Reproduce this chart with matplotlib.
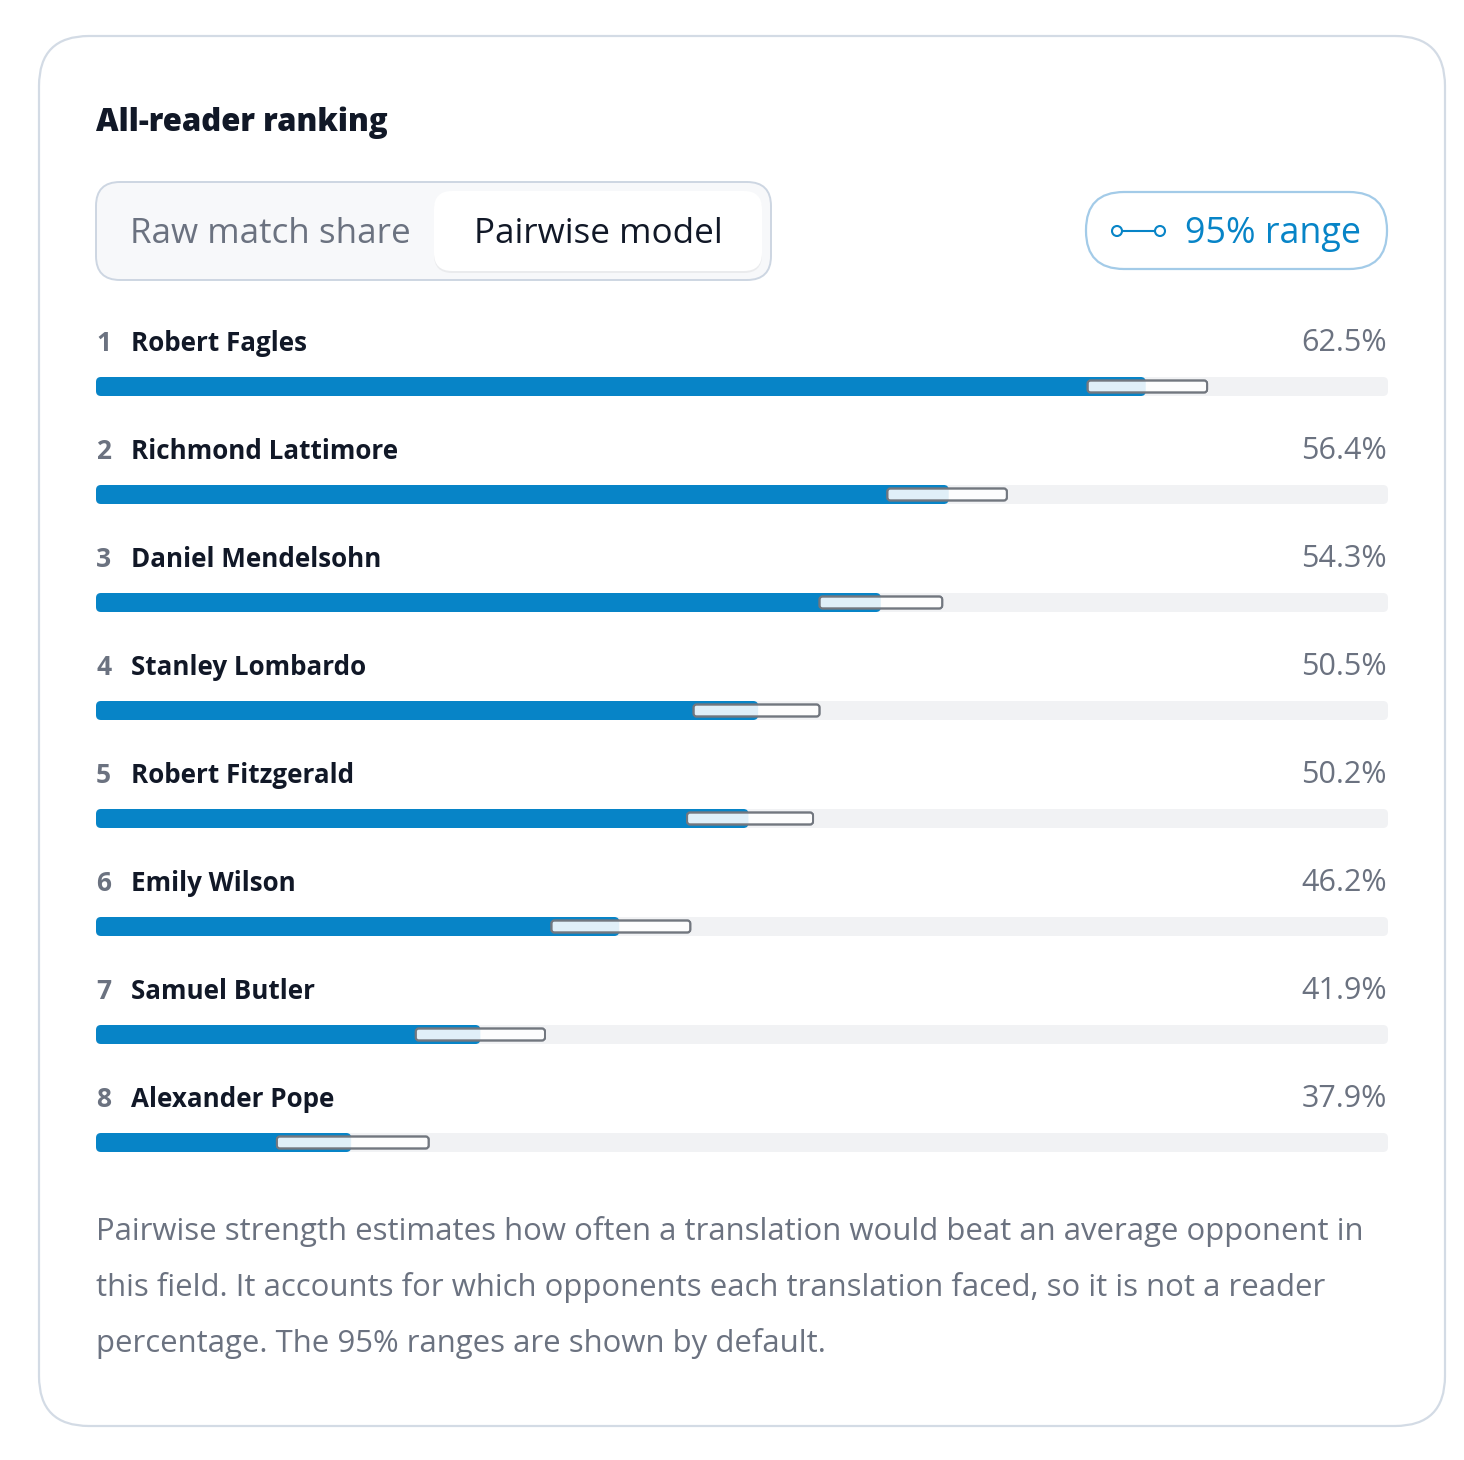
import matplotlib
matplotlib.use("Agg")
import matplotlib.pyplot as plt
from matplotlib.patches import FancyBboxPatch, Circle
from matplotlib.lines import Line2D

# data
names = ['Robert Fagles', 'Richmond Lattimore', 'Daniel Mendelsohn', 'Stanley Lombardo',
         'Robert Fitzgerald', 'Emily Wilson', 'Samuel Butler', 'Alexander Pope']
ranks = [1, 2, 3, 4, 5, 6, 7, 8]
strength = [62.5, 56.4, 54.3, 50.5, 50.2, 46.2, 41.9, 37.9]
ci_low = [60.7, 54.5, 52.4, 48.5, 48.3, 44.1, 39.9, 35.6]
ci_high = [64.4, 58.2, 56.2, 52.4, 52.2, 48.4, 43.9, 40.3]
x_min, x_max = 30, 70

title = "All-reader ranking"
toggle_labels = ["Raw match share", "Pairwise model"]
range_label = "95% range"
footer = ["Pairwise strength estimates how often a translation would beat an average opponent in",
          "this field. It accounts for which opponents each translation faced, so it is not a reader",
          "percentage. The 95% ranges are shown by default."]

BLUE = '#0784c7'
DARK = '#111827'
GRAY = '#6b7280'
TRACK = '#f1f2f4'
FONT = 'Open Sans'

W, H = 1464, 1460
fig = plt.figure(figsize=(W / 100, H / 100), dpi=100)
fig.patch.set_facecolor('white')

# background axes in pixel coords for the card and controls
bg = fig.add_axes([0, 0, 1, 1])
bg.set_xlim(0, W)
bg.set_ylim(H, 0)
bg.axis('off')

bg.add_patch(FancyBboxPatch((39, 36), 1406, 1390, boxstyle="round,pad=0,rounding_size=50",
                            fc='white', ec='#d3dbe5', lw=1.6))
bg.text(96, 131, title, fontsize=22.4, fontweight=800, color=DARK, family=FONT, va='baseline')

# segmented toggle
bg.add_patch(FancyBboxPatch((96, 182), 675, 98, boxstyle="round,pad=0,rounding_size=24",
                            fc='#f7f8fa', ec='#cdd6e2', lw=1.4))
bg.add_patch(FancyBboxPatch((434, 193), 328, 80, boxstyle="round,pad=0,rounding_size=18",
                            fc='#000000', ec='none', alpha=0.05))
bg.add_patch(FancyBboxPatch((434, 191), 328, 80, boxstyle="round,pad=0,rounding_size=18",
                            fc='white', ec='none'))
bg.text(270, 243, toggle_labels[0], fontsize=25.2, color=GRAY, family=FONT, ha='center', va='baseline')
bg.text(598, 243, toggle_labels[1], fontsize=25.2, color=DARK, family=FONT, ha='center', va='baseline')

# 95% range pill
bg.add_patch(FancyBboxPatch((1086, 192), 301, 77, boxstyle="round,pad=0,rounding_size=38",
                            fc='white', ec='#a3cbe8', lw=1.6))
bg.add_line(Line2D([1117, 1160], [231, 231], color=BLUE, lw=1.5))
for cx in (1117, 1160):
    bg.add_patch(Circle((cx, 231), 5, fc='white', ec=BLUE, lw=1.5, zorder=3))
bg.text(1185, 243, range_label, fontsize=25.8, color=BLUE, family=FONT, va='baseline')

# footer
for i, line in enumerate(footer):
    bg.text(96, 1240 + 56 * i, line, fontsize=22.4, color=GRAY, family=FONT, va='baseline')

# bar axes: x in percent, y in rows
left_px, right_px = 96, 1388
top_px, bot_px = 386.5 - 54, 1142.5 + 54
ax = fig.add_axes([left_px / W, 1 - bot_px / H, (right_px - left_px) / W, (bot_px - top_px) / H])
ax.set_xlim(x_min, x_max)
ax.set_ylim(len(names) - 0.5, -0.5)
ax.axis('off')

px_x = (x_max - x_min) / (right_px - left_px)     # x units per pixel
px_y = len(names) / (bot_px - top_px)             # y units per pixel
aspect = px_y / px_x
bar_h = 19 * px_y
ci_h = 12 * px_y


def rbox(x0, y0, w, h, r_px, **kw):
    return FancyBboxPatch((x0, y0), w, h, boxstyle=f"round,pad=0,rounding_size={r_px * px_x}",
                          mutation_aspect=aspect, **kw)


for i, (name, rk, v, lo, hi) in enumerate(zip(names, ranks, strength, ci_low, ci_high)):
    ax.add_patch(rbox(x_min, i - bar_h / 2, x_max - x_min, bar_h, 5, fc=TRACK, ec='none'))
    ax.add_patch(rbox(x_min, i - bar_h / 2, v - x_min, bar_h, 5, fc=BLUE, ec='none', zorder=2))
    ax.add_patch(rbox(lo, i - ci_h / 2, hi - lo, ci_h, 3, fc='white', ec='#72777f', lw=1.4,
                      alpha=0.88, zorder=3))
    ax.add_patch(rbox(lo, i - ci_h / 2, hi - lo, ci_h, 3, fc='none', ec='#72777f', lw=1.4, zorder=4))
    ax.annotate(str(rk), (x_min, i), xytext=(0, 35.5), textcoords='offset pixels',
                fontsize=19, fontweight='bold', color=GRAY, family=FONT, va='baseline')
    ax.annotate(name, (x_min, i), xytext=(35, 35.5), textcoords='offset pixels',
                fontsize=18.7, fontweight='bold', color=DARK, family=FONT, va='baseline')
    ax.annotate(f"{v:.1f}%", (x_max, i), xytext=(-1, 35.5), textcoords='offset pixels',
                fontsize=22, color=GRAY, family=FONT, ha='right', va='baseline')

fig.savefig('out.png', dpi=100, facecolor='white')
